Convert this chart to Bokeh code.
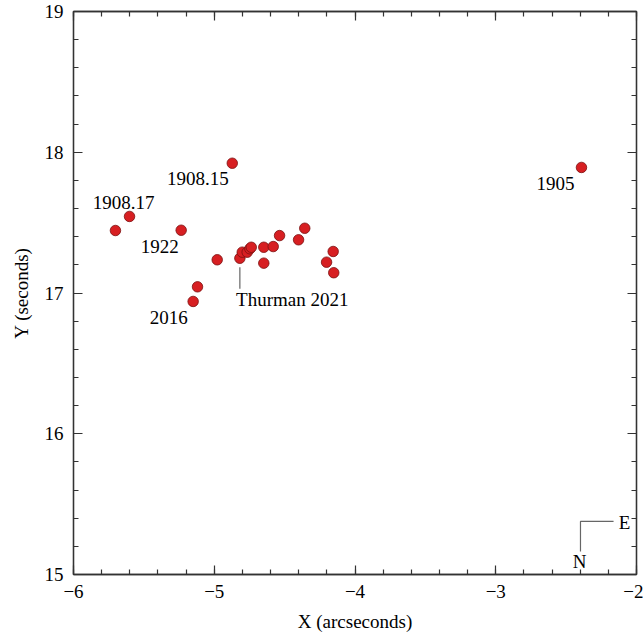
from bokeh.plotting import figure
from bokeh.models import (LinearAxis, SingleIntervalTicker, Range1d, ColumnDataSource)
from bokeh.core.properties import value
from bokeh.embed import file_html
from bokeh.resources import INLINE

# Measured positions (X in arcseconds, Y in seconds)
xs = [-5.702, -5.602, -4.872, -5.235, -2.391, -4.979, -5.119, -5.150,
      -4.818, -4.801, -4.766, -4.747, -4.737, -4.648, -4.648, -4.581,
      -4.536, -4.401, -4.357, -4.202, -4.155, -4.151]
ys = [17.444, 17.544, 17.922, 17.446, 17.892, 17.236, 17.044, 16.940,
      17.247, 17.290, 17.290, 17.314, 17.325, 17.325, 17.212, 17.330,
      17.408, 17.378, 17.460, 17.219, 17.295, 17.144]

# Epoch annotations
label_text = ["1908.17", "1908.15", "1922", "2016", "1905"]
label_x = [-5.643, -5.117, -5.387, -5.323, -2.576]
label_y = [17.645, 17.811, 17.330, 16.828, 17.776]

thurman_x = -4.818
thurman_y = 17.247

x_ticks = [-6, -5, -4, -3, -2]
y_ticks = [15, 16, 17, 18, 19]

SERIF = "serif"
FS = "19px"
AX = "#333333"

p = figure(width=643, height=639, frame_width=563, frame_height=563,
           x_range=Range1d(-6, -2), y_range=Range1d(15, 19),
           output_backend="svg", toolbar_location=None,
           x_axis_location=None, y_axis_location=None,
           min_border_left=73, min_border_top=11, min_border_right=7,
           min_border_bottom=65)
p.grid.visible = False
p.outline_line_color = AX
p.outline_line_width = 1.3
p.background_fill_color = "white"
p.border_fill_color = "white"


def make_axis(ticks, show_labels, label=None):
    ax = LinearAxis(ticker=SingleIntervalTicker(interval=1, num_minor_ticks=5))
    ax.major_tick_in = 9
    ax.major_tick_out = 0
    ax.minor_tick_in = 5
    ax.minor_tick_out = 0
    ax.axis_line_color = AX
    ax.axis_line_width = 1.3
    ax.major_tick_line_color = AX
    ax.minor_tick_line_color = AX
    ax.major_tick_line_width = 1.2
    ax.minor_tick_line_width = 1.2
    ax.major_label_text_font = SERIF
    ax.major_label_text_font_size = FS
    ax.major_label_text_color = "black"
    if show_labels:
        ax.major_label_standoff = 10
        ax.major_label_overrides = {t: str(t).replace("-", "\u2212") for t in ticks}
        ax.axis_label = label
        ax.axis_label_text_font = SERIF
        ax.axis_label_text_font_size = FS
        ax.axis_label_text_font_style = "normal"
        ax.axis_label_text_color = "black"
        ax.axis_label_standoff = 10
    else:
        ax.major_label_standoff = 0
        ax.major_label_overrides = {t: "" for t in ticks}
    return ax


p.add_layout(make_axis(x_ticks, True, "X (arcseconds)"), "below")
p.add_layout(make_axis(y_ticks, True, "Y (seconds)"), "left")
p.add_layout(make_axis(x_ticks, False), "above")
p.add_layout(make_axis(y_ticks, False), "right")

# Leader line for the Thurman 2021 point
p.line(x=[thurman_x, thurman_x], y=[thurman_y - 0.064, thurman_y - 0.217],
       line_color="#666666", line_width=1.2)

# Data points
src = ColumnDataSource(dict(x=xs, y=ys))
p.scatter("x", "y", source=src, size=10.5, fill_color="#d71f22",
          line_color="#7a1010", line_width=0.8)

# Labels
lsrc = ColumnDataSource(dict(x=label_x, y=label_y, t=label_text))
p.text("x", "y", text="t", source=lsrc, text_font=value(SERIF),
       text_font_size=FS, text_align="center", text_baseline="middle",
       text_color="black")
p.text(x=[thurman_x - 0.027], y=[16.952], text=["Thurman 2021"],
       text_font=value(SERIF), text_font_size=FS, text_align="left",
       text_baseline="middle", text_color="black")

# Orientation marker
p.line(x=[-2.398, -2.398, -2.163], y=[15.163, 15.377, 15.377],
       line_color="#666666", line_width=1.2)
p.text(x=[-2.085, -2.405], y=[15.37, 15.092], text=["E", "N"],
       text_font=value(SERIF), text_font_size=FS, text_align="center",
       text_baseline="middle", text_color="black")

open("out.html", "w").write(file_html(p, INLINE))
